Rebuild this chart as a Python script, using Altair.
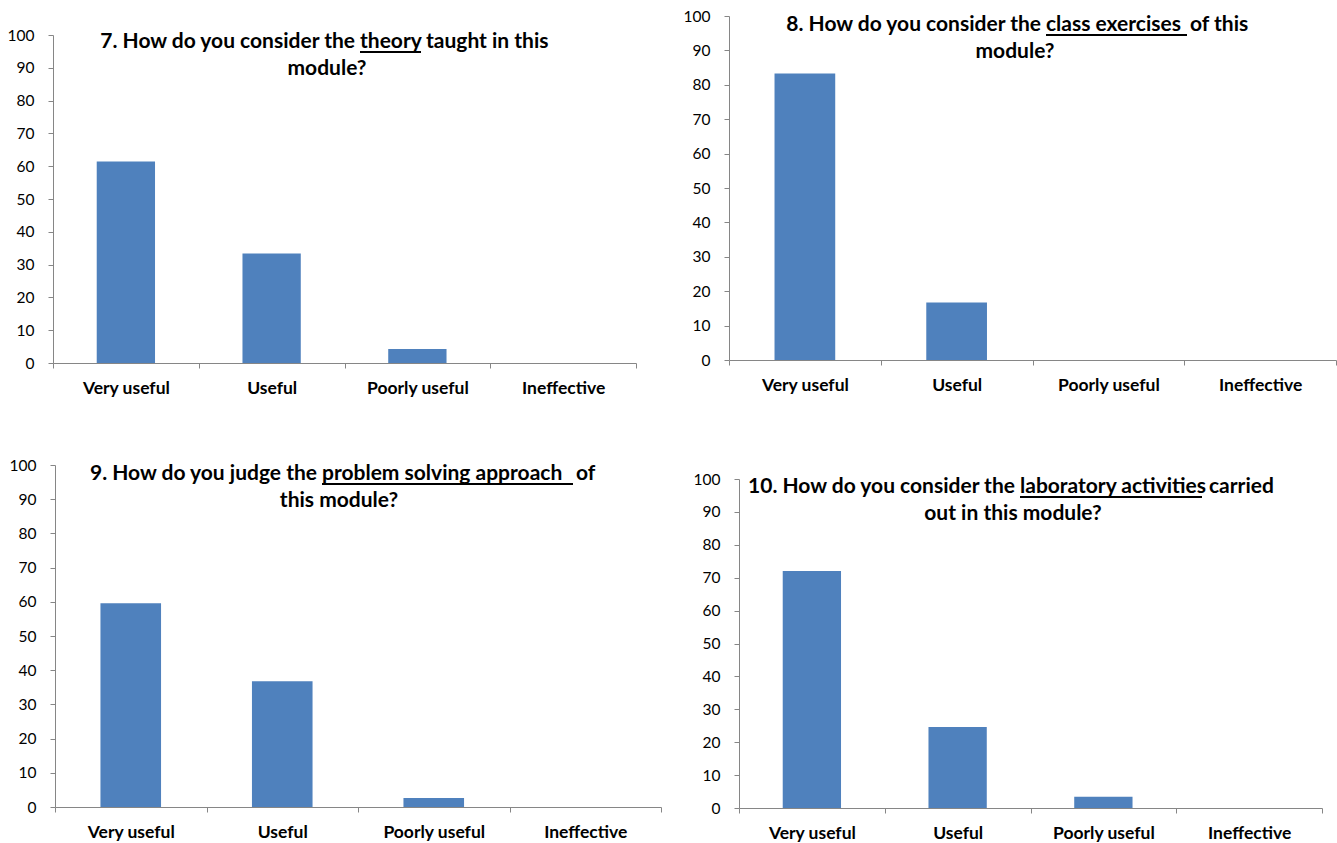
import altair as alt
import pandas as pd

# Survey answers (% of students) for four questions about the module
categories = ["Very useful", "Useful", "Poorly useful", "Ineffective"]
theory = [61.4, 33.4, 4.3, 0.0]
exercises = [83.3, 16.7, 0.0, 0.0]
problem_solving = [59.6, 36.8, 2.6, 0.0]
laboratory = [72.0, 24.6, 3.4, 0.0]
y_ticks = [0, 10, 20, 30, 40, 50, 60, 70, 80, 90, 100]

W, H = 1337, 843
BLUE = "#4F81BD"
GREY = "#868686"
FONT = "Lato"

# Each panel: data, plot box in page pixels, and a two-line heading whose
# first line has one underlined phrase.
panels = [
    dict(values=theory, left=53, right=636, bottom=363, top=35,
         pre="7. How do you consider the", under="theory", post="taught in this",
         u0=360, u1=421, gap=5, base1=48, line2="module?", x2=327, base2=75),
    dict(values=exercises, left=729, right=1336, bottom=360, top=16,
         pre="8. How do you consider the", under="class exercises", post="of this",
         u0=1046, u1=1187, gap=3, base1=31, line2="module?", x2=1015, base2=58),
    dict(values=problem_solving, left=55, right=661, bottom=807, top=465,
         pre="9. How do you judge the", under="problem solving approach", post="of",
         u0=322, u1=573, gap=3, base1=480, line2="this module?", x2=339, base2=507),
    dict(values=laboratory, left=739, right=1322, bottom=808, top=479,
         pre="10. How do you consider the", under="laboratory activities", post="carried",
         u0=1020, u1=1202, gap=7, base1=493, line2="out in this module?", x2=1013, base2=520),
]

layers = []
for p in panels:
    df = pd.DataFrame({"category": categories, "share": p["values"]})
    bars = alt.Chart(df).mark_bar(color=BLUE, width=alt.RelativeBandSize(0.4)).encode(
        x=alt.X(
            "category:N",
            sort=categories,
            scale=alt.Scale(domain=categories, range=[p["left"], p["right"]],
                            paddingInner=0, paddingOuter=0),
            axis=alt.Axis(
                orient="bottom", offset=p["bottom"] - H, title=None,
                labelAngle=0, tickBand="extent", tickSize=5, tickColor=GREY,
                domainColor=GREY, labelFont=FONT, labelFontSize=17.5,
                labelFontWeight="bold", labelColor="black", labelPadding=11,
                labelOverlap=False,
            ),
        ),
        y=alt.Y(
            "share:Q",
            scale=alt.Scale(domain=[0, 100], range=[p["bottom"], p["top"]], nice=False),
            axis=alt.Axis(
                orient="left", offset=-p["left"], title=None, values=y_ticks,
                grid=False, tickSize=5, tickColor=GREY, domainColor=GREY,
                labelFont=FONT, labelFontSize=15.5, labelColor="black",
                labelPadding=14, labelOverlap=False,
            ),
        ),
    )
    layers.append(bars)

    head = dict(font=FONT, fontSize=21, fontWeight="bold", color="black", baseline="alphabetic")
    one = pd.DataFrame({"k": [0]})
    layers.append(alt.Chart(one).mark_text(text=p["pre"], align="right", **head).encode(
        x=alt.value(p["u0"] - 5), y=alt.value(p["base1"])))
    layers.append(alt.Chart(one).mark_text(text=p["under"], align="left", **head).encode(
        x=alt.value(p["u0"]), y=alt.value(p["base1"])))
    layers.append(alt.Chart(one).mark_text(text=p["post"], align="left", **head).encode(
        x=alt.value(p["u1"] + p["gap"]), y=alt.value(p["base1"])))
    layers.append(alt.Chart(one).mark_text(text=p["line2"], align="center", **head).encode(
        x=alt.value(p["x2"]), y=alt.value(p["base2"])))
    layers.append(alt.Chart(one).mark_rule(color="black", strokeWidth=1.8).encode(
        x=alt.value(p["u0"]), x2=alt.value(p["u1"]), y=alt.value(p["base1"] + 4)))

chart = (
    alt.layer(*layers)
    .resolve_scale(x="independent", y="independent")
    .resolve_axis(x="independent", y="independent")
    .properties(width=W, height=H, padding=0,
                autosize=alt.AutoSizeParams(type="none"), background="white")
    .configure_view(stroke=None)
)

chart.save("out.html", embed_options={"renderer": "svg", "actions": False})
